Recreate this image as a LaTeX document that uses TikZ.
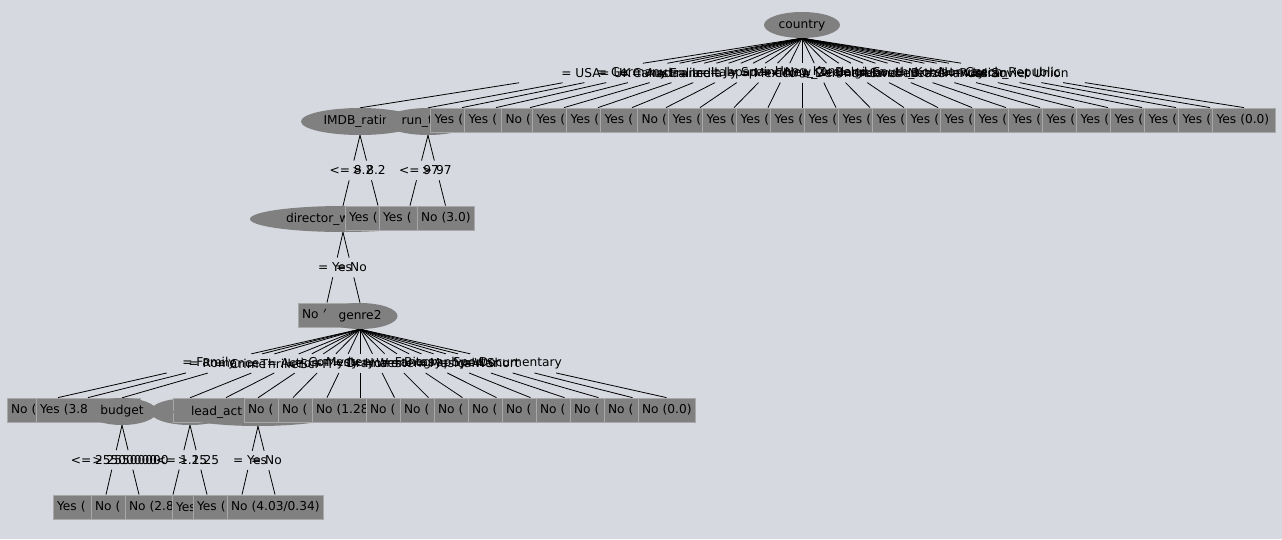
\documentclass[tikz,border=0pt]{standalone}
\usepackage{fontspec}
\setmainfont{DejaVu Sans}
\usetikzlibrary{shapes.geometric, calc}
\definecolor{PanelBg}{RGB}{214,217,223}
\definecolor{NodeGray}{RGB}{128,128,128}
\definecolor{BoxLine}{RGB}{168,168,168}
\pgfdeclarelayer{bg}
\pgfdeclarelayer{edges}
\pgfsetlayers{bg,edges,main}

% edge broken round its label
\newcommand{\treeedge}[3]{%
  \draw[branch] (#1.south) -- ($(#1.south)!0.36!(#2.north)$)
    ($(#1.south)!0.64!(#2.north)$) -- (#2.north);
  \node[edgelab] (#2-lab) at ($(#1.south)!0.5!(#2.north)$) {#3};
}

\begin{document}
\begin{tikzpicture}[x=1pt, y=-1pt, font=\fontsize{12.2}{14}\selectfont,
    split/.style={ellipse, fill=NodeGray, inner sep=0, minimum height=27},
    leaf/.style={rectangle, fill=NodeGray, draw=BoxLine, line width=0.8pt,
      minimum height=24, inner xsep=4, inner ysep=0, align=left,
      minimum width=#1, /utils/exec={\pgfmathsetlengthmacro\leafw{#1-8}},
      text width=\leafw},
    branch/.style={line width=0.8pt},
    edgelab/.style={inner sep=0}]
		\useasboundingbox (0,0) rectangle (1282,539);
		\begin{pgfonlayer}{bg}
			\fill[PanelBg] (0,0) rectangle (1282,539);
		\end{pgfonlayer}
		
		% level 0
		\node[split, minimum width=76, minimum height=26] (country) at (802,25) {country};
		
		% level 1
		\node[split, minimum width=118, text width=73pt, align=left] (imdb) at (360,121.5) {IMDB\_ratin};
		\node[split, minimum width=88, text width=53pt, align=left] (runtime) at (428,121.5) {run\_t};
		\foreach \n/\t/\w in {1/Yes (/63, 2/Yes (/63, 3/No (/57, 4/Yes (/63, 5/Yes (/63,
				6/Yes (/63, 7/No (/57, 8/Yes (/63, 9/Yes (/63, 10/Yes (/63, 11/Yes (/63,
				12/Yes (/63, 13/Yes (/63, 14/Yes (/63, 15/Yes (/63, 16/Yes (/63, 17/Yes (/63,
				18/Yes (/63, 19/Yes (/63, 20/Yes (/63, 21/Yes (/63, 22/Yes (/63, 23/Yes (/63,
				24/Yes (0.0)/63}
			{\node[leaf=\w] (l\n) at ({462+34*(\n-1)},120) {\mbox{\t}};}
		
		% level 2
		\node[split, minimum width=186, minimum height=26, text width=114pt, align=left] (director) at (343,219) {director\_w};
		\node[leaf=66] (imdbyes) at (378,218) {Yes (};
		\node[leaf=62] (rtyes) at (410,218) {Yes (};
		\node[leaf=57] (rtno) at (445.5,218) {\mbox{No (3.0)}};
		
		% level 3
		\node[leaf=58] (dirno) at (327,315) {No (};
		\node[split, minimum width=75, minimum height=26] (genre2) at (360,316) {genre2};
		
		% level 4
		\node[leaf=102] (g1) at (58,410) {No (};
		\node[leaf=104] (g2) at (88,410) {Yes (3.8};
		\node[split, minimum width=70] (budget) at (122,411.5) {budget};
		\node[split, minimum width=80] (g4) at (190,411.5) {};
		\node[leaf=106] (g5) at (226,410) {};
		\node[split, minimum width=170, minimum height=28, inner xsep=-12pt, text width=134pt, align=left] (lead) at (258,412) {lead\_act};
		\node[leaf=98] (g7) at (293,410) {No (};
		\node[leaf=98] (g8) at (327,410) {No (};
		\node[leaf=96] (g9) at (360,410) {No (1.28};
		\foreach \n/\t in {10/No (, 11/No (, 12/No (, 13/No (, 14/No (, 15/No (, 16/No (, 17/No (, 18/No (0.0)}
			{\node[leaf=57] (g\n) at ({394.5+34*(\n-10)},410) {\mbox{\t}};}
		
		% level 5
		\node[leaf=106] (b1) at (106,507) {Yes (};
		\node[leaf=96] (b2) at (139,507) {No (};
		\node[leaf=96] (x1) at (173,507) {No (2.8};
		\node[leaf=70] (x2) at (207,507) {Yes};
		\node[leaf=98] (d1) at (242,507) {Yes (};
		\node[leaf=96] (d2) at (275,507) {\mbox{No (4.03/0.34)}};
		
		% connectors
		\begin{pgfonlayer}{edges}
			\foreach \c/\t in {imdb/USA, runtime/UK, l1/Germany, l2/Canada, l3/Australia,
					l4/France, l5/India, l6/Italy, l7/Japan, l8/Spain, l9/Mexico, l10/China,
					l11/Hong\_Kong, l12/New\_Zealand, l13/Denmark, l14/Belgium, l15/Ireland,
					l16/Sweden, l17/South\_Korea, l18/Brazil, l19/Netherlands, l20/Norway,
					l21/Russia, l22/Iran, l23/Czech\_Republic, l24/Soviet Union}
				{\treeedge{country}{\c}{= \t}}
			
			\treeedge{imdb}{director}{<= 8.2}
			\treeedge{imdb}{imdbyes}{> 8.2}
			\treeedge{runtime}{rtyes}{<= 97}
			\treeedge{runtime}{rtno}{> 97}
			
			\treeedge{director}{dirno}{= Yes}
			\treeedge{director}{genre2}{= No}
			
			\foreach \c/\t in {g1/Family, g2/Romance, budget/Crime, g4/Thriller, g5/Action,
					lead/Sci-Fi, g7/Comedy, g8/Mystery, g9/Drama, g10/Horror, g11/Western,
					g12/Fantasy, g13/Biography, g14/Musical, g15/Sport, g16/War, g17/Short,
					g18/Documentary}
				{\treeedge{genre2}{\c}{= \t}}
			
			\treeedge{budget}{b1}{<= 25500000}
			\treeedge{budget}{b2}{> 25500000}
			\treeedge{g4}{x1}{<= 1.25}
			\treeedge{g4}{x2}{> 1.25}
			\treeedge{lead}{d1}{= Yes}
			\treeedge{lead}{d2}{= No}
		\end{pgfonlayer}
	\end{tikzpicture}
\end{document}
